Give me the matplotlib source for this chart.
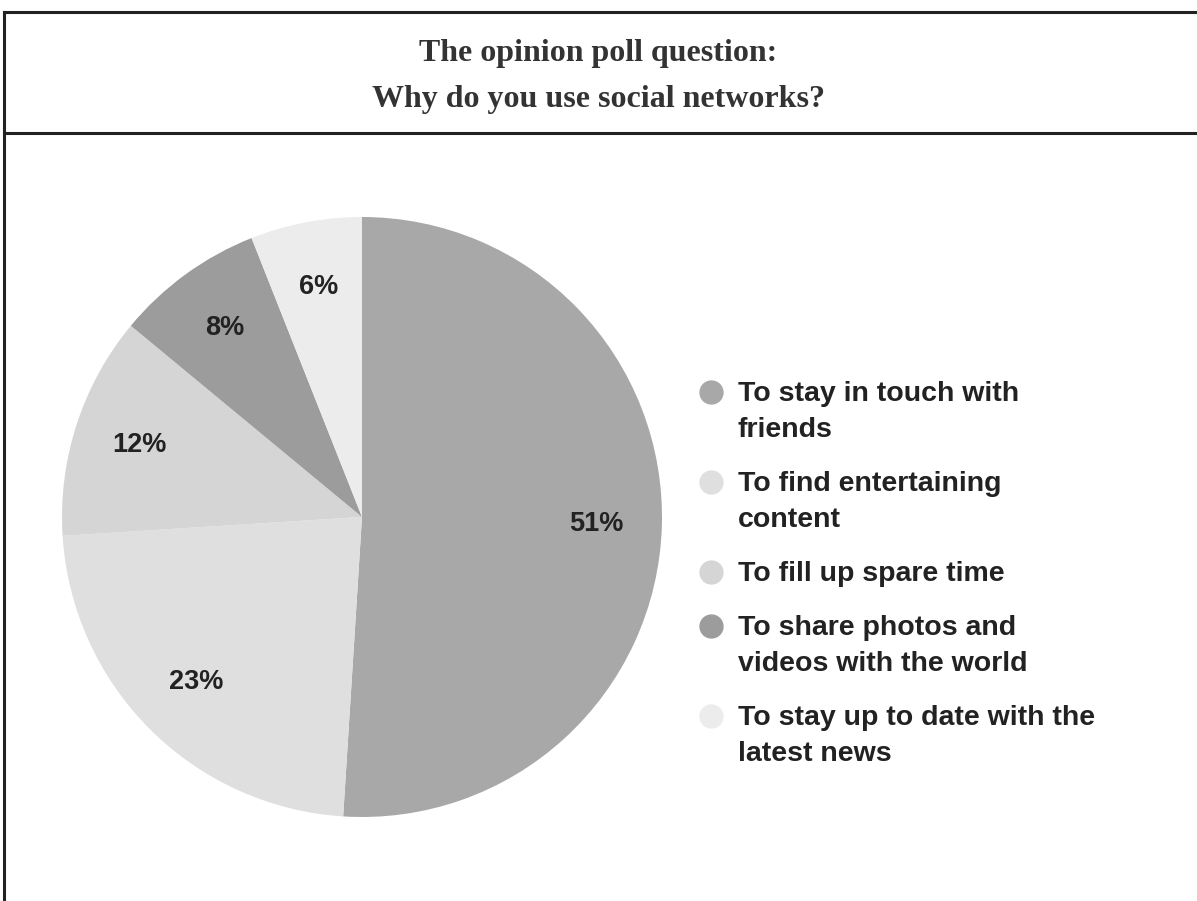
import matplotlib.pyplot as plt
from matplotlib.lines import Line2D

# poll data
reasons = [['To stay in touch with', 'friends'],
           ['To find entertaining', 'content'],
           ['To fill up spare time'],
           ['To share photos and', 'videos with the world'],
           ['To stay up to date with the', 'latest news']]
shares = [51, 23, 12, 8, 6]
colors = ['#a8a8a8', '#dfdfdf', '#d5d5d5', '#9c9c9c', '#ececec']
title_lines = ['The opinion poll question:', 'Why do you use social networks?']

W, H = 1197, 901
fig = plt.figure(figsize=(W / 100, H / 100), dpi=100)
fig.patch.set_facecolor('white')

# frame lines of the table
fig.add_artist(Line2D([0.0033, 1.0], [0.9867, 0.9867], color='#222222', lw=2.2))
fig.add_artist(Line2D([0.0033, 1.0], [0.8524, 0.8524], color='#222222', lw=2.2))
fig.add_artist(Line2D([0.0033, 0.0033], [0.0, 0.9867], color='#222222', lw=2.2))

fig.text(0.5, 1 - 54 / H, title_lines[0], ha='center', va='center',
         family='Liberation Serif', weight='bold', fontsize=23, color='#333333')
fig.text(0.5, 1 - 100 / H, title_lines[1], ha='center', va='center',
         family='Liberation Serif', weight='bold', fontsize=23, color='#333333')

ax = fig.add_axes([62 / W, 1 - 817 / H, 600 / W, 600 / H])
wedges, texts, autotexts = ax.pie(shares, colors=colors, startangle=90, counterclock=False,
                                  autopct='%d%%', pctdistance=0.78, radius=1.0,
                                  textprops=dict(family='Liberation Sans', weight='bold',
                                                 fontsize=19.5, color='#222222'))
ax.set_xlim(-1, 1)
ax.set_ylim(-1, 1)

# legend drawn by hand so the dot sits on the first line of each entry
lax = fig.add_axes([0, 0, 1, 1])
lax.set_xlim(0, W)
lax.set_ylim(H, 0)
lax.axis('off')
y = 391
for lines, c in zip(reasons, colors):
    lax.plot(711, y + 1, marker='o', markersize=16.5, color=c, linestyle='')
    for i, line in enumerate(lines):
        lax.text(738, y + 3 + i * 36, line, ha='left', va='center', family='Liberation Sans',
                 weight='bold', fontsize=20.5, color='#222222')
    y += (len(lines) - 1) * 36 + 54

fig.savefig('out.png', dpi=100, facecolor='white')
